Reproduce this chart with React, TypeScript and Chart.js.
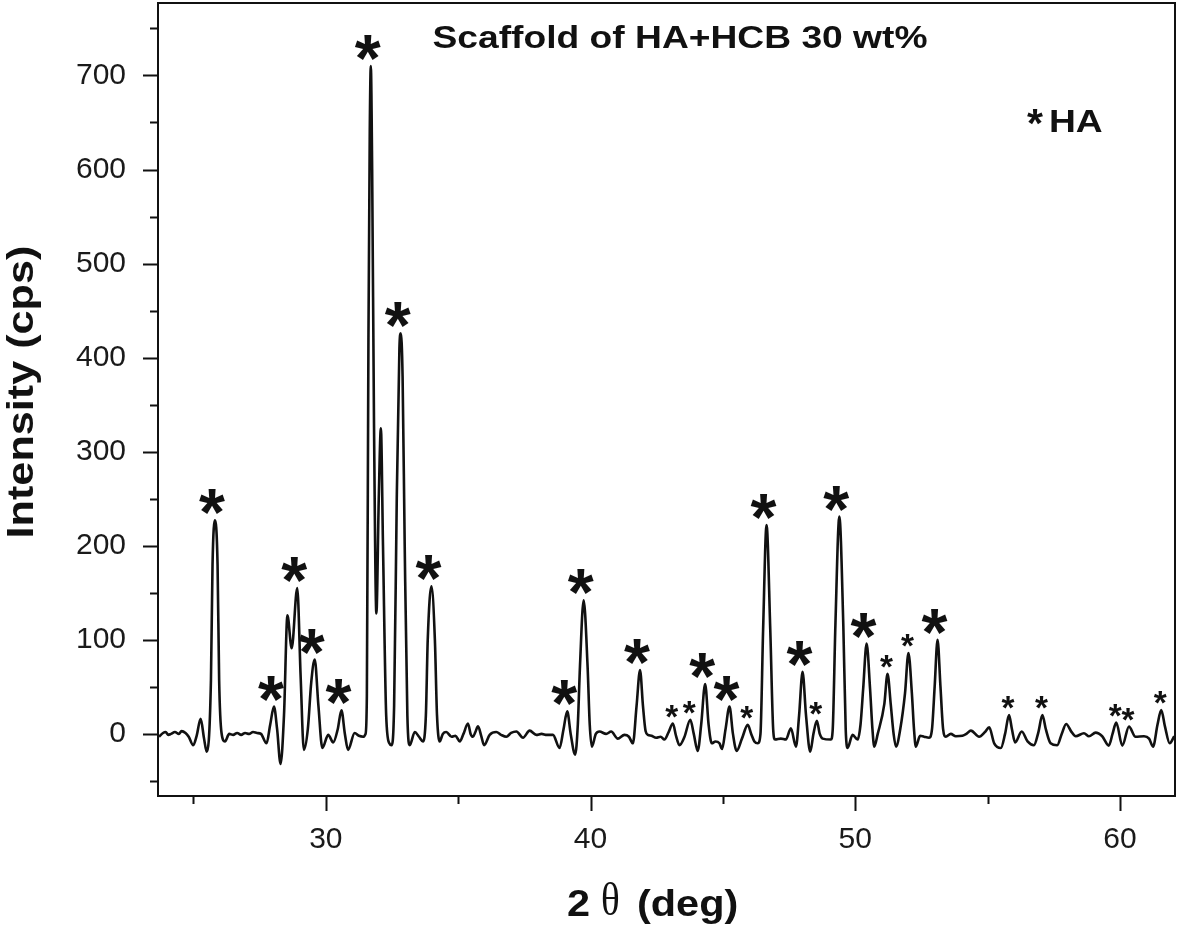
import React, { useEffect, useRef } from 'react';
import { Chart, registerables } from 'chart.js';

Chart.register(...registerables);

// 2θ positions (deg) of the diffraction trace
const xValues = [
  23.70, 23.85, 23.95, 24.05, 24.15, 24.30, 24.45, 24.55, 24.70, 24.82, 24.99, 25.12, 25.27, 25.40, 25.50,
  25.66, 25.72, 25.81, 25.91, 25.97, 26.06, 26.19, 26.35, 26.50, 26.65, 26.80, 26.95, 27.10, 27.25, 27.40,
  27.55, 27.76, 27.90, 28.04, 28.16, 28.29, 28.42, 28.55, 28.71, 28.92, 29.05, 29.17, 29.32, 29.45, 29.58,
  29.72, 29.87, 30.09, 30.28, 30.45, 30.59, 30.72, 30.84, 31.09, 31.25, 31.41, 31.50, 31.55, 31.61, 31.66,
  31.70, 31.75, 31.82, 31.91, 32.00, 32.08, 32.16, 32.28, 32.40, 32.48, 32.58, 32.68, 32.78, 32.83, 32.90,
  32.98, 33.08, 33.17, 33.36, 33.52, 33.67, 33.78, 33.85, 33.99, 34.12, 34.20, 34.30, 34.42, 34.55, 34.75,
  34.90, 35.06, 35.20, 35.37, 35.47, 35.56, 35.65, 35.75, 35.87, 35.98, 36.19, 36.44, 36.62, 36.82, 37.00,
  37.20, 37.45, 37.70, 37.95, 38.15, 38.35, 38.58, 38.83, 38.98, 39.12, 39.25, 39.42, 39.52, 39.60, 39.74,
  39.89, 39.97, 40.05, 40.20, 40.34, 40.59, 40.78, 41.03, 41.28, 41.45, 41.60, 41.74, 41.87, 41.98, 42.08,
  42.17, 42.30, 42.48, 42.65, 42.79, 42.95, 43.11, 43.23, 43.36, 43.55, 43.77, 43.90, 44.05, 44.18, 44.33,
  44.46, 44.58, 44.72, 44.87, 44.97, 45.10, 45.25, 45.38, 45.52, 45.72, 45.94, 46.07, 46.19, 46.32, 46.42,
  46.52, 46.65, 46.79, 46.90, 46.97, 47.19, 47.38, 47.57, 47.76, 47.88, 48.01, 48.14, 48.30, 48.42, 48.55,
  48.66, 48.77, 49.08, 49.15, 49.25, 49.40, 49.55, 49.64, 49.71, 49.90, 50.09, 50.20, 50.30, 50.43, 50.56,
  50.65, 50.72, 50.85, 51.10, 51.22, 51.34, 51.45, 51.54, 51.70, 51.88, 52.01, 52.14, 52.22, 52.29, 52.45,
  52.60, 52.79, 52.90, 53.00, 53.11, 53.22, 53.32, 53.42, 53.61, 53.80, 54.05, 54.20, 54.37, 54.68, 54.90,
  55.06, 55.25, 55.50, 55.66, 55.81, 55.92, 56.04, 56.29, 56.51, 56.75, 56.92, 57.07, 57.20, 57.38, 57.63,
  57.80, 57.97, 58.15, 58.33, 58.64, 58.83, 59.08, 59.33, 59.58, 59.72, 59.86, 60.09, 60.34, 60.59, 60.91,
  61.10, 61.25, 61.42, 61.56, 61.70, 61.88, 62.05,
];

// Intensity (cps) at each position
const yValues = [
  -3, 1, 2, -1, 0, 2, 0, 3, 1, -3, -12, -2, 16, -5, -19,
  57, 180, 227, 180, 57, 1, -8, 0, -1, 1, -1, 1, 0, 2, 1,
  0, -10, 10, 29, 5, -32, 20, 126, 91, 155, 60, -17, 5, 55, 79,
  30, -15, -1, -9, 5, 25, 0, -17, 1, -2, -3, 0, 40, 420, 640,
  710, 600, 330, 128, 250, 325, 200, 20, -10, -12, 30, 250, 410, 426, 380,
  200, 20, -12, 2, -3, -8, 20, 100, 157, 100, 20, -8, 0, 2, -3,
  -2, -8, 0, 11, 0, -3, 2, 8, -2, -12, -1, 2, -1, -3, 1,
  2.5, -4, 3.5, -1, 0, -1, -1, -15, 5, 24, 0, -22, 10, 71, 142,
  71, 10, -13.5, 0, 2.5, 0, 2.5, -5, -1, -3, -10, 30, 68, 30, 3,
  -1, -2, -4, -3, -6, 2, 11, -2, -12, -3, 15, 0, -18, 10, 53,
  10, -10, -8, -10, -16, 5, 29, 0, -18, -5, 9.6, 0, -8, -10, 0,
  111, 222, 111, 5, -6, -5, -6, 6, -13.5, 20, 66, 20, -19, 0, 14,
  0, -5, -6, 5, 115, 231, 115, 5, -15, -1, -6, 10, 48, 96, 48,
  5, -13.5, 0, 32, 64, 32, 0, -13.5, 5, 43, 86, 43, 5, -13.5, -2,
  -3, -4, 5, 50, 100, 50, 5, -3, 0, -2.5, -2, 0, 3.5, -3, 2,
  7, -10, -15, 0, 20, 5, -9, 2.5, -8, -12, 2, 20, 5, -10, -12,
  0, 10.6, 3, -2.5, 0.7, -2.5, 1.4, -2.5, -12.4, 0, 12, -12.4, 7.8, -3, -2.5,
  -5, -13.5, 10, 25.5, 8, -10, -2.5,
];

// HA reflections marked with a large asterisk (position, peak intensity)
const bigStarX = [25.81, 28.04, 28.92, 29.58, 30.59, 31.70, 32.83, 33.99, 39.12, 39.74, 41.87, 44.33, 45.25, 46.65, 48.01, 49.40, 50.43, 53.11];
const bigStarY = [227, 29, 155, 79, 25, 710, 426, 157, 24, 142, 68, 53, 29, 222, 66, 231, 96, 100];
// HA reflections marked with a small asterisk
const smallStarX = [43.11, 43.77, 45.94, 48.55, 51.22, 52.01, 55.81, 57.07, 59.86, 60.34, 61.56];
const smallStarY = [11, 15, 9.6, 14, 64, 86, 20, 20, 12, 7.8, 25.5];

const xLabelTicks = [30, 40, 50, 60];
const xMinorTicks = [25, 35, 45, 55];
const yLabelTicks = [0, 100, 200, 300, 400, 500, 600, 700];
const yMinorTicks = [-50, 50, 150, 250, 350, 450, 550, 650, 750];

const chartTitle = 'Scaffold of HA+HCB 30 wt%';
const xTitleParts = ['2', 'θ', '(deg)'];
const yTitle = 'Intensity (cps)';
const legendLabel = 'HA';

const FONT = '"Liberation Sans", Arial, Helvetica, sans-serif';
const INK = '#111111';

function drawStar(ctx: CanvasRenderingContext2D, cx: number, bottom: number, width: number) {
  ctx.font = `bold 100px ${FONT}`;
  const m0 = ctx.measureText('*');
  const gw0 = m0.actualBoundingBoxLeft + m0.actualBoundingBoxRight;
  const size = (100 * width) / gw0;
  ctx.font = `bold ${size}px ${FONT}`;
  const m = ctx.measureText('*');
  const gw = m.actualBoundingBoxLeft + m.actualBoundingBoxRight;
  ctx.textAlign = 'left';
  ctx.textBaseline = 'alphabetic';
  ctx.fillText('*', cx - gw / 2 + m.actualBoundingBoxLeft, bottom - m.actualBoundingBoxDescent);
}

function drawStretched(
  ctx: CanvasRenderingContext2D,
  text: string,
  x: number,
  y: number,
  font: string,
  sx: number,
  align: CanvasTextAlign,
) {
  ctx.save();
  ctx.font = font;
  ctx.translate(x, y);
  ctx.scale(sx, 1);
  ctx.textAlign = align;
  ctx.textBaseline = 'alphabetic';
  ctx.fillText(text, 0, 0);
  ctx.restore();
}

const decorPlugin = {
  id: 'decor',
  afterDatasetsDraw(chart: any) {
    const { ctx, chartArea: a, scales } = chart;
    const xs = scales.x;
    const ys = scales.y;
    ctx.save();
    ctx.strokeStyle = INK;
    ctx.fillStyle = INK;
    ctx.lineWidth = 2;
    ctx.strokeRect(a.left, a.top, a.right - a.left, a.bottom - a.top);

    ctx.beginPath();
    xLabelTicks.forEach((v) => {
      const p = Math.round(xs.getPixelForValue(v)) + 0.5;
      ctx.moveTo(p, a.bottom);
      ctx.lineTo(p, a.bottom + 15);
    });
    xMinorTicks.forEach((v) => {
      const p = Math.round(xs.getPixelForValue(v)) + 0.5;
      ctx.moveTo(p, a.bottom);
      ctx.lineTo(p, a.bottom + 8);
    });
    yLabelTicks.forEach((v) => {
      const p = Math.round(ys.getPixelForValue(v)) + 0.5;
      ctx.moveTo(a.left, p);
      ctx.lineTo(a.left - 15, p);
    });
    yMinorTicks.forEach((v) => {
      const p = Math.round(ys.getPixelForValue(v)) + 0.5;
      ctx.moveTo(a.left, p);
      ctx.lineTo(a.left - 8, p);
    });
    ctx.stroke();

    bigStarX.forEach((v, i) => {
      drawStar(ctx, xs.getPixelForValue(v) - 3, ys.getPixelForValue(bigStarY[i]) - 6, 26);
    });
    smallStarX.forEach((v, i) => {
      drawStar(ctx, xs.getPixelForValue(v) - 1, ys.getPixelForValue(smallStarY[i]) - 6, 13);
    });

    // title inside plot
    drawStretched(ctx, chartTitle, 680, 48, `bold 31px ${FONT}`, 1.2, 'center');

    // legend
    drawStar(ctx, 1035, 125, 16);
    drawStretched(ctx, legendLabel, 1049, 132, `bold 31px ${FONT}`, 1.2, 'left');

    // x title
    const xt = 916;
    drawStretched(ctx, xTitleParts[0], 567, xt, `bold 37px ${FONT}`, 1.12, 'left');
    drawStretched(ctx, xTitleParts[1], 601, xt - 1, `46px "Liberation Serif", "DejaVu Serif", serif`, 0.85, 'left');
    drawStretched(ctx, xTitleParts[2], 637, xt, `bold 37px ${FONT}`, 1.12, 'left');

    // y title
    ctx.save();
    ctx.translate(33, 392);
    ctx.rotate(-Math.PI / 2);
    drawStretched(ctx, yTitle, 0, 0, `bold 36px ${FONT}`, 1.2, 'center');
    ctx.restore();

    ctx.restore();
  },
};

export default function App() {
  const canvasRef = useRef<HTMLCanvasElement | null>(null);

  useEffect(() => {
    document.body.style.margin = '0';
    const canvas = canvasRef.current;
    if (!canvas) return;
    const chart = new Chart(canvas, {
      type: 'line',
      data: {
        datasets: [
          {
            data: xValues.map((x, i) => ({ x, y: yValues[i] })),
            borderColor: INK,
            borderWidth: 2.6,
            pointRadius: 0,
            fill: false,
            cubicInterpolationMode: 'monotone',
          },
        ],
      },
      options: {
        responsive: false,
        animation: false,
        layout: { padding: { left: 0, top: 3, right: 6, bottom: 0 }, autoPadding: false },
        plugins: { legend: { display: false }, tooltip: { enabled: false }, title: { display: false } },
        scales: {
          x: {
            type: 'linear',
            min: 23.66,
            max: 62.08,
            grid: { display: false },
            border: { display: false },
            afterBuildTicks: (s: any) => {
              s.ticks = xLabelTicks.map((v) => ({ value: v }));
            },
            afterFit: (s: any) => {
              s.height = 133;
              s.paddingLeft = 0;
              s.paddingRight = 0;
              s.paddingTop = 0;
              s.paddingBottom = 0;
            },
            ticks: {
              padding: 18,
              color: '#1a1a1a',
              font: { family: FONT, size: 30 },
              maxRotation: 0,
              callback: (v: any) => String(v),
            },
          },
          y: {
            type: 'linear',
            min: -66,
            max: 777,
            grid: { display: false },
            border: { display: false },
            afterBuildTicks: (s: any) => {
              s.ticks = yLabelTicks.map((v) => ({ value: v }));
            },
            afterFit: (s: any) => {
              s.width = 158;
              s.paddingLeft = 0;
              s.paddingRight = 0;
              s.paddingTop = 0;
              s.paddingBottom = 0;
            },
            ticks: {
              padding: 24,
              color: '#1a1a1a',
              font: { family: FONT, size: 30 },
              callback: (v: any) => String(v),
            },
          },
        },
      },
      plugins: [decorPlugin],
    } as any);
    return () => chart.destroy();
  }, []);

  return (
    <div style={{ position: 'absolute', left: 0, top: 0, width: 1181, height: 929, background: '#fff' }}>
      <canvas ref={canvasRef} width={1181} height={929} style={{ width: 1181, height: 929 }} />
    </div>
  );
}
